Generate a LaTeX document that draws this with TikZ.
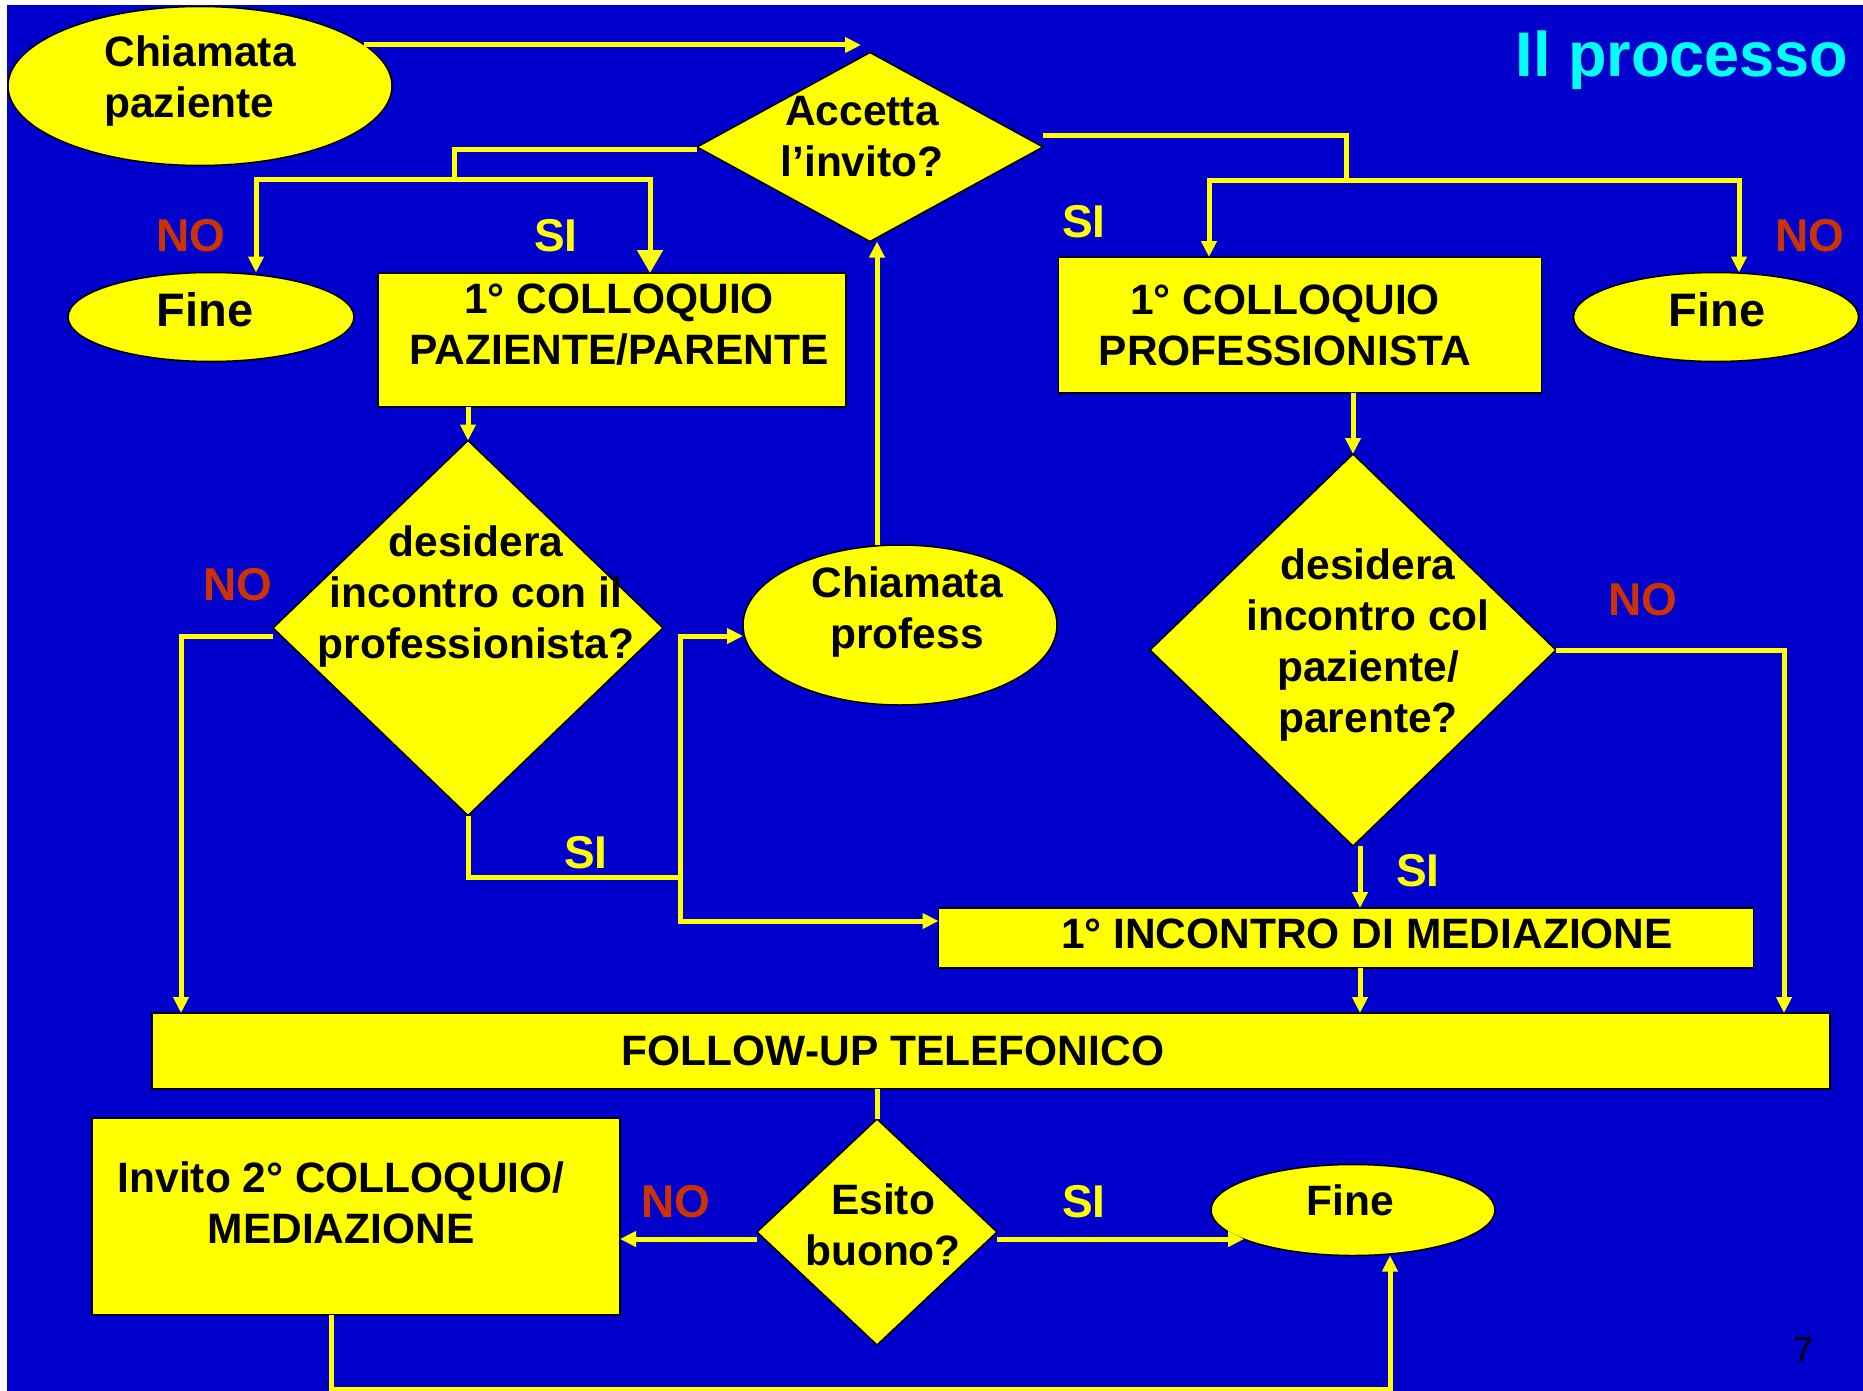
\documentclass[tikz,border=0pt]{standalone}
\usepackage{fontspec}
\setmainfont{Liberation Sans}
\usetikzlibrary{shapes.geometric,arrows.meta}
\definecolor{sfondo}{RGB}{0,0,204}
\definecolor{giallo}{RGB}{255,255,0}
\definecolor{rosso}{RGB}{204,51,0}
\definecolor{ciano}{RGB}{0,255,255}
\begin{document}
\begin{tikzpicture}[x=1pt,y=-1pt]
  \tikzstyle{forma}=[fill=giallo,draw=black,line width=1.5pt,inner sep=0pt,outer sep=0pt]
  \tikzstyle{blocco}=[forma,rectangle]
  \tikzstyle{ovale}=[forma,ellipse]
  \tikzstyle{rombo}=[forma,diamond]
  \tikzstyle{scritta}=[anchor=center,align=center,text=black,font=\fontsize{42.5}{51}\selectfont\bfseries]
  \tikzstyle{scrittag}=[scritta,font=\fontsize{47}{51}\selectfont\bfseries]
  \tikzstyle{lblsi}=[text=giallo,font=\fontsize{46}{51}\selectfont\bfseries]
  \tikzstyle{lblno}=[lblsi,text=rosso]
  \tikzstyle{filo}=[draw=giallo,line width=5pt]
  \tikzstyle{freccia}=[filo,-{Triangle[width=15pt,length=16pt]}]
  \tikzstyle{freccione}=[filo,-{Triangle[width=25pt,length=23pt]}]
  \useasboundingbox (0,0) rectangle (1863,1391);
  \fill[white] (0,0) rectangle (1863,1391);
  \fill[sfondo] (7,5) rectangle (1863,1391);

  \node[anchor=base east,text=ciano,font=\fontsize{63}{70}\selectfont\bfseries] (titolo) at (1852,77) {Il processo};

  % in alto
  \node[ovale,minimum width=384pt,minimum height=159pt,
    label={[scritta,align=left,yshift=5pt]center:{Chiamata\\paziente}}] (chpaz) at (200,86) {};
  \node[rombo,minimum width=346pt,minimum height=189pt,
    label={[scritta,xshift=-8pt,yshift=10pt]center:{Accetta\\l’invito?}}] (accetta) at (870,147) {};
  \node[ovale,minimum width=286pt,minimum height=89pt,
    label={[scrittag,xshift=-6pt,yshift=7pt]center:Fine}] (fineL) at (211,317) {};
  \node[blocco,minimum width=468pt,minimum height=134pt,
    label={[scritta,xshift=7pt,yshift=15pt]center:{1° COLLOQUIO\\PAZIENTE/PARENTE}}] (coll1) at (612,340) {};
  \node[blocco,minimum width=483pt,minimum height=136pt,
    label={[scritta,xshift=-15pt]center:{1° COLLOQUIO\\PROFESSIONISTA}}] (coll2) at (1300,325) {};
  \node[ovale,minimum width=285pt,minimum height=89pt,
    label={[scrittag,xshift=1pt,yshift=7pt]center:Fine}] (fineR) at (1716,317) {};

  % centro
  \node[rombo,minimum width=390pt,minimum height=375pt,
    label={[scritta,xshift=8pt,yshift=31pt]center:{desidera\\incontro con il\\professionista?}}] (dq1) at (468,628) {};
  \node[ovale,minimum width=314pt,minimum height=160pt,
    label={[scritta,xshift=7pt,yshift=13pt]center:{Chiamata\\profess}}] (cprof) at (900,625) {};
  \node[rombo,minimum width=406pt,minimum height=392pt,
    label={[scritta,xshift=15pt,yshift=5pt]center:{desidera\\incontro col\\paziente/\\parente?}}] (dq2) at (1353,650) {};
  \node[blocco,minimum width=815pt,minimum height=60pt,
    label={[scritta,xshift=21pt,yshift=4pt]center:{1° INCONTRO DI MEDIAZIONE}}] (med) at (1346,938) {};
  \node[blocco,minimum width=1678pt,minimum height=76pt,
    label={[scritta,xshift=-98pt]center:{FOLLOW-UP TELEFONICO}}] (fup) at (991,1051) {};

  % in basso
  \node[rombo,minimum width=240pt,minimum height=226pt,
    label={[scritta,xshift=6pt,yshift=7pt]center:{Esito\\buono?}}] (esito) at (877,1232) {};
  \node[blocco,minimum width=528pt,minimum height=197pt,
    label={[scritta,xshift=-15pt,yshift=14pt]center:{Invito 2° COLLOQUIO/\\MEDIAZIONE}}] (invito) at (356,1216.5) {};
  \node[ovale,minimum width=284pt,minimum height=91pt,
    label={[scritta,xshift=-3pt,yshift=10pt]center:Fine}] (fineB) at (1353,1210) {};

  \node[font=\fontsize{36}{40}\selectfont] (pagina) at (1803,1350) {7};

  % si / no
  \node[lblno] (noA) at (191,236) {NO};
  \node[lblsi] (siA) at (556,236) {SI};
  \node[lblsi] (siB) at (1084,222) {SI};
  \node[lblno] (noB) at (1810,236) {NO};
  \node[lblno] (noC) at (238,585) {NO};
  \node[lblsi] (siC) at (586,853) {SI};
  \node[lblno] (noD) at (1643,600) {NO};
  \node[lblsi] (siD) at (1418,871) {SI};
  \node[lblno] (noE) at (676,1202) {NO};
  \node[lblsi] (siE) at (1084,1202) {SI};

  % collegamenti
  \coordinate (sx) at (454,180);
  \coordinate (dx) at (1346,181);
  \coordinate (nodo) at (680,877);
  \draw[freccia] (chpaz.14) -- ([xshift=-9pt]chpaz.14 -| accetta.north);
  \draw[filo] ([yshift=-3pt]accetta.west) -| (sx);
  \draw[freccia] (sx) -| ([xshift=45pt]fineL.north);
  \draw[freccione] (sx) -| ([xshift=38pt]coll1.north);
  \draw[filo] ([yshift=11pt]accetta.east) -| (dx);
  \draw[freccia] (dx) -| ([xshift=-91pt]coll2.north);
  \draw[freccia] (dx) -| ([xshift=23pt]fineR.north);

  \draw[freccia] (coll1.south -| dq1.north) -- (dq1.north);
  \draw[freccia] ([yshift=-8pt]dq1.west) -| ([xshift=29pt]fup.north west);
  \draw[filo] (dq1.south) |- (nodo);
  \draw[freccia] (nodo) |- ([yshift=-11pt]cprof.west);
  \draw[freccia] (nodo) |- ([yshift=17pt]med.west);
  \draw[freccia] ([xshift=-23pt]cprof.north) -- ([xshift=-23pt]cprof.north |- accetta.south);

  \draw[freccia] (coll2.south -| dq2.north) -- (dq2.north);
  \draw[freccia] (dq2.east) -| ([xshift=-46pt]fup.north east);
  \draw[freccia] ([xshift=7pt]dq2.south) -- ([xshift=7pt]dq2.south |- med.north);
  \draw[freccia] ([xshift=14pt]med.south) -- ([xshift=14pt]med.south |- fup.north);

  \draw[filo] (fup.south -| esito.north) -- (esito.north);
  \draw[freccia] ([yshift=-7pt]esito.west) -- ([yshift=-7pt]esito.west -| invito.east);
  \draw[freccia] ([yshift=-7pt]esito.east) -- ([yshift=-7pt]esito.east -| fineB.195);
  \draw[freccia] ([xshift=-25pt]invito.south) -- ++(0,74) -| ([xshift=37pt]fineB.south);
\end{tikzpicture}
\end{document}
